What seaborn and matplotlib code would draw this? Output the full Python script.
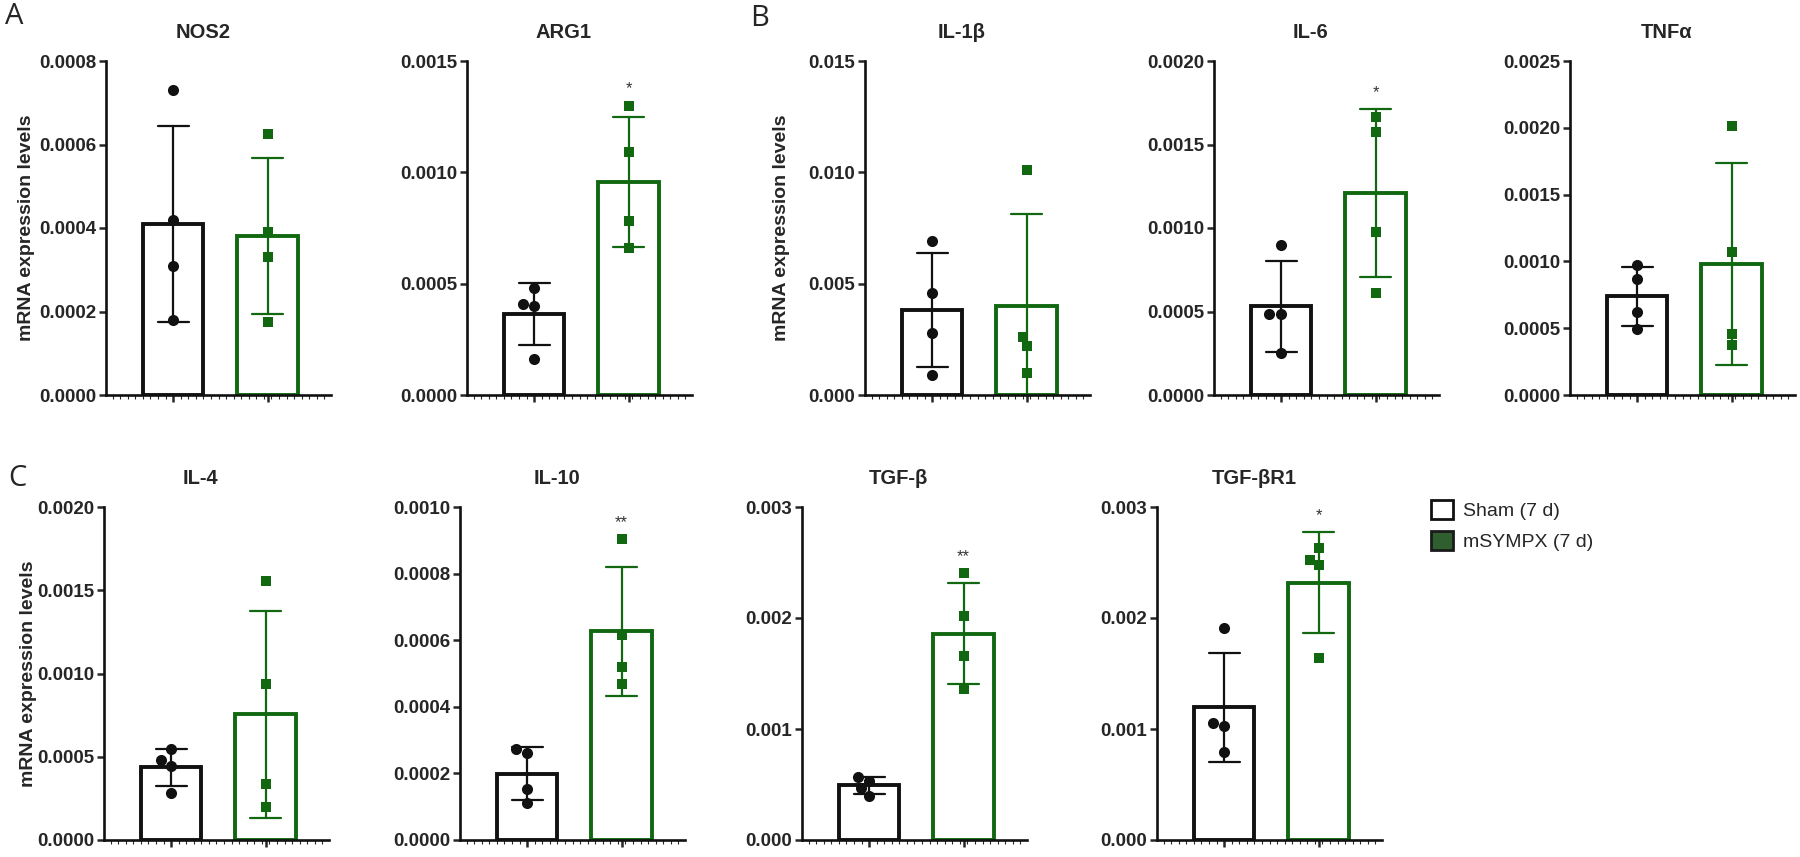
import numpy as np
import pandas as pd
import seaborn as sns
import matplotlib.pyplot as plt
from matplotlib.patches import Patch
from matplotlib.ticker import MultipleLocator, FormatStrFormatter

sns.set_style("ticks")
plt.rcParams["font.family"] = ["Liberation Sans", "DejaVu Sans"]

# Datos (4 animales por grupo)
groups = ["Sham (7 d)", "mSYMPX (7 d)"]
genes = ["NOS2", "ARG1", "IL-1β", "IL-6", "TNFα", "IL-4", "IL-10", "TGF-β", "TGF-βR1"]

sham_vals = [
    [0.00073, 0.00042, 0.00031, 0.00018],
    [0.00048, 0.00041, 0.00040, 0.00016],
    [0.0069, 0.0046, 0.0028, 0.0009],
    [0.00090, 0.000485, 0.000485, 0.00025],
    [0.000973, 0.000866, 0.000624, 0.000494],
    [0.000544, 0.00048, 0.000444, 0.000284],
    [0.000272, 0.00026, 0.000152, 0.000112],
    [0.00057, 0.000534, 0.000465, 0.000396],
    [0.001914, 0.00105, 0.00103, 0.000795],
]
sympx_vals = [
    [0.000625, 0.00039, 0.00033, 0.000175],
    [0.0013, 0.00109, 0.00078, 0.00066],
    [0.0101, 0.0026, 0.0022, 0.0010],
    [0.001667, 0.001577, 0.000978, 0.000609],
    [0.002016, 0.001068, 0.000457, 0.000374],
    [0.001554, 0.000934, 0.000334, 0.0002],
    [0.000903, 0.000615, 0.00052, 0.000468],
    [0.002406, 0.002019, 0.001656, 0.001356],
    [0.00263, 0.00252, 0.00248, 0.001644],
]
y_max = [0.0008, 0.0015, 0.015, 0.002, 0.0025, 0.002, 0.001, 0.003, 0.003]
y_step = [0.0002, 0.0005, 0.005, 0.0005, 0.0005, 0.0005, 0.0002, 0.001, 0.001]
y_decimals = [4, 4, 3, 4, 4, 4, 4, 3, 3]
stars = ["", "*", "", "*", "", "", "**", "**", "*"]

# Estilo
BLACK = "#111111"
GREEN = "#116811"
palette = {groups[0]: BLACK, groups[1]: GREEN}

# Posiciones en pixeles (figura 1800x857)
W, H = 1800, 857
lefts = [106, 467, 865, 1214, 1570, 104, 460, 802, 1157]
row_of = [0, 0, 0, 0, 0, 1, 1, 1, 1]
row_top = [61, 507]
row_bot = [395, 840]
AX_W = 225
ylabel_off = {0: -79, 2: -83, 5: -76}

fig = plt.figure(figsize=(18, 8.57), dpi=100)

for i, gene in enumerate(genes):
    r = row_of[i]
    h_px = row_bot[r] - row_top[r]
    ax = fig.add_axes([lefts[i] / W, 1 - row_bot[r] / H, AX_W / W, h_px / H])

    s = sham_vals[i]
    m = sympx_vals[i]
    df = pd.DataFrame({"group": [groups[0]] * len(s) + [groups[1]] * len(m),
                       "value": s + m})

    sns.barplot(data=df, x="group", y="value", hue="group", order=groups,
                hue_order=groups, palette=palette, saturation=1, fill=False,
                errorbar="sd", width=0.64, capsize=0.33, linewidth=2.8,
                err_kws={"linewidth": 1.6}, legend=False, ax=ax)

    for g, marker, size in [(groups[0], "o", 8), (groups[1], "s", 7)]:
        sub = df[df["group"] == g]
        sns.swarmplot(data=sub, x="group", y="value", order=groups,
                      color=palette[g], marker=marker, size=size,
                      linewidth=0, ax=ax, zorder=4)

    ymax = y_max[i]
    ax.set_xlim(-0.71, 1.67)
    ax.set_ylim(0, ymax)
    ax.set_yticks(np.arange(0, ymax + y_step[i] / 2, y_step[i]))
    ax.yaxis.set_major_formatter(FormatStrFormatter(f"%.{y_decimals[i]}f"))
    ax.set_xlabel("")
    ax.set_ylabel("")

    ax.tick_params(axis="x", which="major", labelbottom=False, length=5, width=1.8)
    ax.xaxis.set_minor_locator(MultipleLocator(0.08))
    ax.tick_params(axis="x", which="minor", length=3, width=0.8)
    ax.tick_params(axis="y", length=5, width=1.8, pad=2, labelsize=13.5)
    for lab in ax.get_yticklabels():
        lab.set_fontweight("bold")

    sns.despine(ax=ax)
    for side in ["left", "bottom"]:
        ax.spines[side].set_linewidth(1.9)
        ax.spines[side].set_color(BLACK)

    ax.text(0.43, 1 + 29 / h_px, gene, transform=ax.transAxes, ha="center",
            va="center", fontsize=14.5, fontweight="bold")

    if i in ylabel_off:
        ax.text(ylabel_off[i] / AX_W, 0.5, "mRNA expression levels",
                transform=ax.transAxes, rotation=90, ha="center", va="center",
                fontsize=14, fontweight="bold")

    if stars[i]:
        top = max(max(m), np.mean(m) + np.std(m, ddof=1))
        ax.text(1, top + 0.05 * ymax, stars[i], ha="center", va="center",
                fontsize=12, color="#333333")

# Letras de panel
for letter, (px, py) in zip(["A", "B", "C"], [(14, 17), (760, 18), (17, 478)]):
    fig.text(px / W, 1 - py / H, letter, ha="center", va="center",
             fontsize=21, family=["Open Sans", "DejaVu Sans"])

# Leyenda
handles = [Patch(facecolor="white", edgecolor=BLACK, linewidth=2),
           Patch(facecolor="#2f5f2f", edgecolor="#1a1a1a", linewidth=2)]
fig.legend(handles, groups, loc="upper left", bbox_to_anchor=(1431 / W, 1 - 500 / H),
           frameon=False, fontsize=14, handlelength=1.15, handleheight=1.15,
           handletextpad=0.5, labelspacing=0.55, borderaxespad=0, borderpad=0)

fig.savefig("out.png", dpi=100)
plt.close()
